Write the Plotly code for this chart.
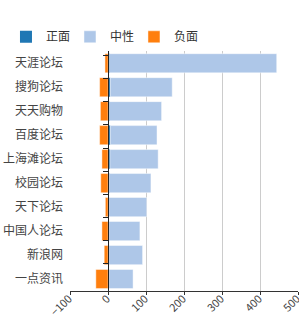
import plotly.graph_objects as go

categories = ["天涯论坛", "搜狗论坛", "天天购物", "百度论坛", "上海滩论坛",
              "校园论坛", "天下论坛", "中国人论坛", "新浪网", "一点资讯"]
positive = [4, 6, 4, 6, 5, 3, 2, 2, 2, 2]
neutral = [440, 163, 137, 123, 127, 110, 100, 82, 89, 64]
negative = [-8, -22, -20, -22, -16, -19, -7, -16, -10, -32]
x_ticks = [-100, 0, 100, 200, 300, 400, 500]

font_family = "Noto Sans CJK SC, Noto Sans, sans-serif"
edge = dict(color="rgba(255,255,255,0.45)", width=1)

fig = go.Figure()
fig.add_trace(go.Bar(name="正面", y=categories, x=positive, orientation="h",
                     marker=dict(color="#1f77b4", line=dict(width=0))))
fig.add_trace(go.Bar(name="中性", y=categories, x=neutral, orientation="h",
                     marker=dict(color="#aec7e8", line=edge)))
fig.add_trace(go.Bar(name="负面", y=categories, x=negative, orientation="h",
                     marker=dict(color="#ff7f0e", line=edge)))
# invisible helper trace for the zero axis with boundary ticks
fig.add_trace(go.Scatter(y=categories, x=[0] * len(categories), yaxis="y2",
                         mode="markers", marker=dict(opacity=0),
                         showlegend=False, hoverinfo="skip"))

x_min, x_max = x_ticks[0], x_ticks[-1]
fig.update_layout(
    width=299, height=320,
    margin=dict(l=70, r=1, t=48, b=29),
    barmode="relative", bargap=0.2,
    plot_bgcolor="white", paper_bgcolor="white",
    font=dict(family=font_family, size=12, color="#444"),
    legend=dict(orientation="h", xref="container", yref="container",
                x=0.02, y=0.885, xanchor="left", yanchor="middle",
                font=dict(size=12, color="#333"), itemwidth=30,
                entrywidth=19, entrywidthmode="pixels",
                traceorder="normal"),
    xaxis=dict(range=[x_min, x_max], tickvals=x_ticks, tickangle=-45,
               showgrid=True, gridcolor="#cccccc", gridwidth=1,
               zeroline=False, showline=True, linecolor="#333", linewidth=1,
               ticks="outside", ticklen=3, tickcolor="#333",
               ticklabeloverflow="allow", ticklabelshift=-1,
               ticklabelstandoff=-7,
               tickfont=dict(size=11, color="#444"), automargin=False),
    yaxis=dict(type="category", categoryorder="array", categoryarray=categories,
               autorange="reversed", showgrid=False, zeroline=False,
               showline=False, ticks="", ticklabelstandoff=6,
               tickfont=dict(size=12, color="#444"), automargin=False),
    yaxis2=dict(type="category", categoryorder="array", categoryarray=categories,
                autorange="reversed", overlaying="y", anchor="free",
                position=(0 - x_min) / (x_max - x_min),
                showline=True, linecolor="#222", linewidth=1,
                ticks="outside", tickson="boundaries", ticklen=5,
                tickcolor="#222", showticklabels=False, showgrid=False,
                zeroline=False),
)

fig.write_html("out.html")
